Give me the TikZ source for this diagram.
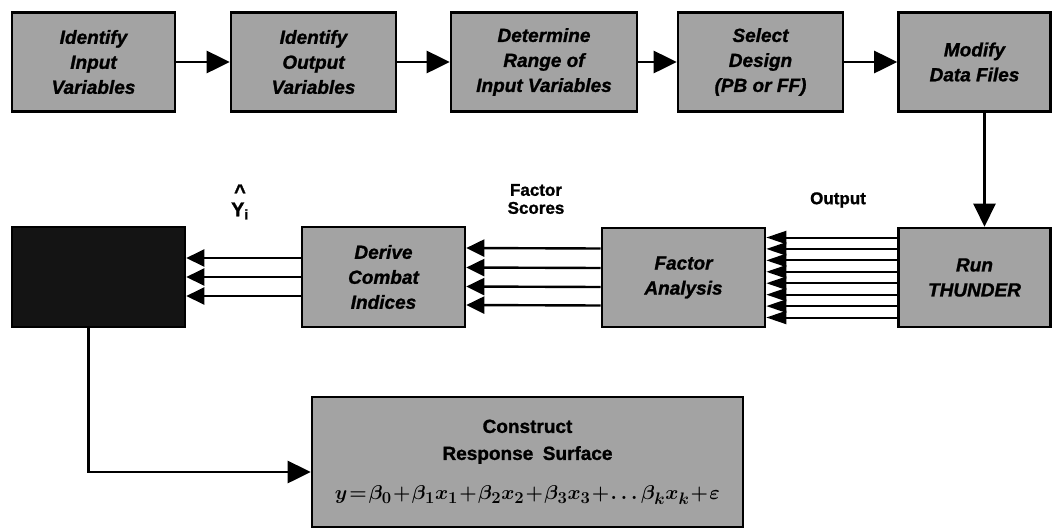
\documentclass[tikz,border=0pt]{standalone}
\usepackage{fontspec}
\setmainfont{Liberation Sans}
\newfontfamily\boxfam[FakeBold=1.2]{Liberation Sans}
\usetikzlibrary{arrows.meta}
\tikzset{
  box/.style={draw=black, line width=2.6pt, fill=black!36, rectangle, inner sep=0pt,
    align=center, font=\boxfam\fontsize{19}{25}\selectfont\bfseries\itshape},
  darkbox/.style={draw=black, line width=2.6pt, fill=black!92, rectangle, inner sep=0pt},
  lbl/.style={font=\boxfam\fontsize{17}{18}\selectfont\bfseries, align=center, inner sep=0pt},
  arr/.style={line width=2.8pt, -{Triangle[length=23pt,width=22pt]}},
  farr/.style={line width=2.4pt, -{Triangle[length=18pt,width=17pt]}},
  oarr/.style={line width=2pt, -{Triangle[length=20pt,width=13pt]}},
}
\begin{document}
\begin{tikzpicture}[x=1pt,y=-1pt]
\useasboundingbox (0,0) rectangle (1053,531);
% top row
\node[box, minimum width=163pt, minimum height=99pt] (b1) at (93.5,62) {Identify\\Input\\Variables};
\node[box, minimum width=165pt, minimum height=99pt] (b2) at (313.5,62) {Identify\\Output\\Variables};
\node[box, minimum width=186pt, minimum height=99pt] (b3) at (544,62) {Determine\\Range of\\Input Variables};
\node[box, minimum width=165pt, minimum height=99pt] (b4) at (760.5,62) {Select\\Design\\(PB or FF)};
\node[box, minimum width=152pt, minimum height=99pt] (b5) at (974.5,62) {Modify\\Data Files};
\draw[arr] (b1) -- (b2);
\draw[arr] (b2) -- (b3);
\draw[arr] (b3) -- (b4);
\draw[arr] (b4) -- (b5);
% second row
\node[box, minimum width=152pt, minimum height=99pt] (rt) at (974.5,277.5) {Run\\THUNDER};
\node[box, minimum width=163pt, minimum height=99pt] (fa) at (683.5,277.5) {Factor\\Analysis};
\node[box, minimum width=163pt, minimum height=100pt] (dc) at (383.5,277) {Derive\\Combat\\Indices};
\node[darkbox, minimum width=173pt, minimum height=100pt] (dk) at (98.5,277) {};
\draw[arr, line width=2.4pt] ([xshift=10pt]b5.south) -- ([xshift=10pt]rt.north);
% output lines
\foreach \s in {40,28.57,17.14,5.71,-5.71,-17.14,-28.57,-40}
  \draw[oarr] ([yshift=\s pt]rt.west) -- ([yshift=\s pt]fa.east);
% factor scores
\foreach \s in {29,9.5,-9.5,-28}
  \draw[farr] ([yshift=\s pt]fa.west) -- ([yshift=\s pt]dc.east);
% estimates
\foreach \s in {19,0,-19}
  \draw[farr] ([yshift=\s pt]dc.west) -- ([yshift=\s pt]dk.east);
% labels
\node[lbl] (out) at (838,200) {Output};
\node[lbl] (fs) at (536,199) {Factor\\Scores};
\node[lbl, font=\boxfam\fontsize{20}{14}\selectfont\bfseries] (yh) at (240,202) {\textasciicircum\\[4pt]Y\textsubscript{i}};
% bottom box
\node[box, minimum width=431pt, minimum height=130pt, font=\boxfam\fontsize{19}{27}\selectfont\bfseries] (rs) at (527.5,462)
  {Construct\\Response\enspace Surface\\[13pt]
   \resizebox{385pt}{!}{\boldmath$\medmuskip=1mu\thickmuskip=1.5mu y=\beta_0+\beta_1x_1+\beta_2x_2+\beta_3x_3+\ldots\beta_kx_k+\varepsilon$}};
\draw[arr] ([xshift=-10pt]dk.south) |- ([yshift=-10pt]rs.west);
\end{tikzpicture}
\end{document}
